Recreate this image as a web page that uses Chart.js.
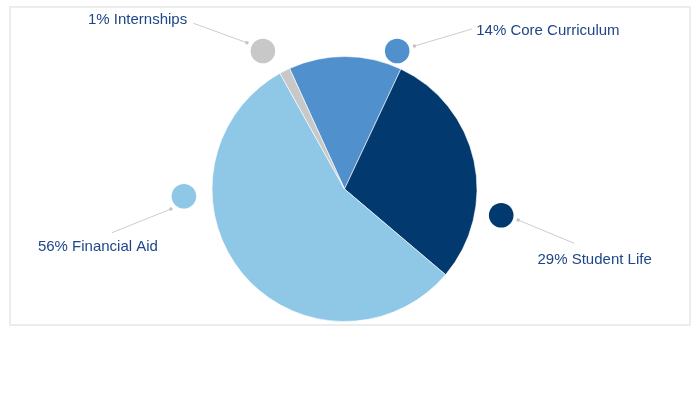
<!DOCTYPE html>
<html>
<head>
<meta charset="utf-8">
<script src="https://cdn.jsdelivr.net/npm/chart.js@4"></script>
<style>
  html, body { margin: 0; padding: 0; background: #fff; }
  #wrap { position: relative; width: 700px; height: 400px; }
  #frame { position: absolute; left: 9px; top: 6px; width: 678px; height: 316px; border: 2px solid #ececec; }
  #myChart { position: absolute; left: 0; top: 0; }
</style>
</head>
<body>
<div id="wrap">
  <div id="frame"></div>
  <canvas id="myChart" width="700" height="400"></canvas>
</div>
<script>
const categories = ['Core Curriculum', 'Student Life', 'Financial Aid', 'Internships'];
const shares = [13.8, 29.2, 55.7, 1.3];
const colors = ['#5090cc', '#023a6f', '#8fc7e7', '#c8c8c8'];

// where each callout sits, relative to the pie centre (px)
const callouts = [
    { dot: [52.7, -138], from: [70, -143], to: [127.4, -160], text: [131.7, -154], align: 'left' },
    { dot: [156.7, 26.3], from: [173.7, 31], to: [229.7, 54.3], text: [193, 75], align: 'left' },
    { dot: [-160.6, 7.3], from: [-173.6, 20], to: [-232.6, 43.7], text: [-306.6, 62], align: 'left' },
    { dot: [-81.6, -138], from: [-97.6, -146.3], to: [-151, -165.7], text: [-157.3, -164.7], align: 'right' }
];

const calloutPlugin = {
    id: 'callouts',
    afterDraw(chart) {
        const ctx = chart.ctx;
        const arc = chart.getDatasetMeta(0).data[0];
        const cx = arc.x, cy = arc.y;
        ctx.save();
        callouts.forEach((c, i) => {
            // leader line
            ctx.strokeStyle = '#cccccc';
            ctx.lineWidth = 1;
            ctx.beginPath();
            ctx.moveTo(cx + c.from[0], cy + c.from[1]);
            ctx.lineTo(cx + c.to[0], cy + c.to[1]);
            ctx.stroke();
            ctx.fillStyle = '#c4c4c4';
            ctx.beginPath();
            ctx.arc(cx + c.from[0], cy + c.from[1], 1.8, 0, Math.PI * 2);
            ctx.fill();
            // coloured dot
            ctx.fillStyle = colors[i];
            ctx.beginPath();
            ctx.arc(cx + c.dot[0], cy + c.dot[1], 12.3, 0, Math.PI * 2);
            ctx.fill();
            // text
            ctx.fillStyle = '#1d4589';
            ctx.font = '15px "Liberation Sans", Arial, sans-serif';
            ctx.textAlign = c.align;
            ctx.textBaseline = 'alphabetic';
            ctx.fillText(Math.round(shares[i]) + '% ' + categories[i], cx + c.text[0], cy + c.text[1]);
        });
        ctx.restore();
    }
};

const data = {
    labels: categories,
    datasets: [{
        data: shares,
        backgroundColor: colors,
        borderColor: 'rgba(255,255,255,0.6)',
        borderWidth: 1
    }]
};

const config = {
    type: 'pie',
    data: data,
    options: {
        responsive: false,
        animation: false,
        rotation: -24.5,
        layout: { padding: { left: 0, right: 11, top: 56, bottom: 78 } },
        plugins: {
            legend: { display: false },
            tooltip: { enabled: false }
        }
    },
    plugins: [calloutPlugin]
};

const myChart = new Chart(
    document.getElementById('myChart'),
    config
);
</script>
</body>
</html>
